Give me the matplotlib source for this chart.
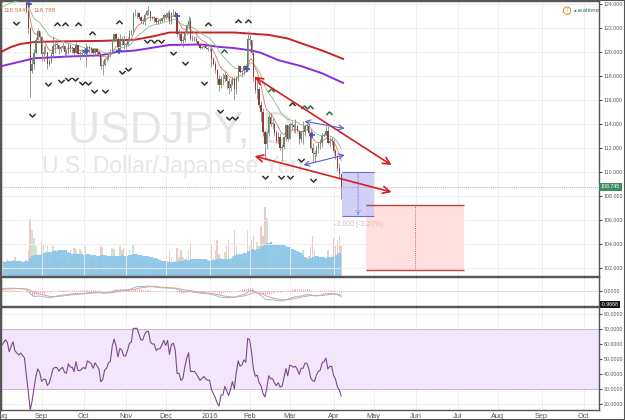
import numpy as np
import pandas as pd
import matplotlib
matplotlib.use("Agg")
import matplotlib.pyplot as plt
import matplotlib.transforms as mtransforms
from matplotlib.patches import Rectangle

plt.rcParams['font.family'] = ['Liberation Sans', 'DejaVu Sans']

# USDJPY daily bars, one per weekday from 2015-08-03 to 2016-04-07
closes = [
    124.5, 124.7, 124.9, 124.8, 124.4, 124.7, 125.0, 124.6, 124.5, 124.4, 124.5, 124.4, 124.3, 123.4, 122.0, 118.4, 119.0, 119.9, 121.0, 121.7, 121.2,
    119.8, 120.0, 120.0, 119.0, 119.2, 119.8, 120.5, 120.6, 120.6, 120.2, 120.4, 120.5, 120.0, 119.9, 120.6, 120.3, 120.3, 119.9, 120.6, 119.8, 119.8, 119.9,
    120.0, 119.9, 120.4, 120.3, 120.2, 119.9, 120.2, 120.0, 119.8, 118.8, 118.9, 119.4, 119.5, 119.8, 119.9, 120.9, 121.5, 121.1, 120.4, 121.1, 121.0, 120.6,
    120.6, 121.0, 121.6, 121.7, 123.2, 123.2, 123.2, 122.9, 122.6, 122.6, 123.1, 123.4, 123.4, 122.9, 122.8, 122.8, 122.5, 122.6, 122.6, 122.8, 123.1,
    122.9, 123.2, 122.6, 123.2, 123.3, 123.0, 121.5, 121.5, 120.9, 121.0, 121.6, 122.2, 122.6, 121.1, 121.1, 121.1, 120.9, 120.6, 120.3, 120.4, 120.5, 120.3, 120.2,
    120.2, 119.4, 119.0, 118.5, 117.7, 117.2, 117.7, 117.7, 118.1, 117.6, 117.0, 117.3, 117.7, 116.9, 117.9, 118.8, 118.3, 118.4, 118.8, 118.6, 121.1,
    121.0, 119.9, 117.9, 116.8, 116.9, 115.6, 115.0, 113.3, 112.3, 113.2, 114.6, 114.0, 114.0, 113.2, 112.6, 112.9, 112.0, 112.1, 112.9, 113.9, 112.7,
    114.0, 113.9, 113.7, 113.8, 113.4, 112.7, 113.3, 113.3, 113.8, 113.8, 113.2, 112.0, 111.6, 111.5, 112.0, 112.3, 112.4, 113.0, 113.1, 113.4, 112.4, 112.6, 112.6,
    111.7, 111.3, 110.3, 109.8, 108.745,
]
highs = [
    124.7, 124.9, 125.1, 125.0, 124.9, 124.8, 125.3, 125.1, 124.7, 124.6, 124.6, 124.6, 124.5, 124.4, 123.6, 122.1, 119.5, 120.2, 121.2, 121.9, 121.6,
    121.3, 120.5, 120.6, 120.0, 119.4, 120.0, 121.3, 120.8, 120.8, 120.6, 120.5, 120.7, 120.6, 120.2, 120.7, 120.6, 120.5, 120.3, 120.8, 120.6, 120.1, 120.2,
    120.2, 120.7, 120.5, 120.5, 120.4, 120.2, 120.3, 120.3, 120.1, 119.9, 119.3, 119.5, 119.7, 119.9, 120.2, 121.0, 121.5, 121.6, 121.2, 121.5, 121.3, 121.4,
    120.8, 121.2, 121.8, 121.8, 123.3, 123.6, 123.3, 123.2, 123.0, 122.8, 123.2, 123.5, 123.8, 123.5, 123.0, 123.0, 122.9, 122.7, 122.7, 122.9, 123.2,
    123.2, 123.4, 123.5, 123.3, 123.6, 123.4, 123.0, 121.9, 121.6, 121.3, 121.8, 122.3, 123.0, 122.9, 121.4, 121.3, 121.3, 120.9, 120.5, 120.5, 120.6, 120.6, 120.4,
    120.3, 120.6, 119.6, 119.2, 118.6, 118.1, 118.0, 118.2, 118.4, 118.0, 117.8, 117.7, 117.9, 118.0, 118.0, 118.9, 118.8, 118.5, 118.9, 119.0, 121.7,
    121.4, 121.0, 120.0, 118.0, 117.5, 117.1, 115.9, 115.3, 113.5, 113.4, 114.8, 114.9, 114.5, 114.1, 113.5, 113.3, 113.2, 112.3, 113.0, 114.0, 113.9,
    114.1, 114.2, 114.1, 114.4, 113.9, 113.5, 113.4, 114.2, 113.9, 114.1, 114.0, 113.6, 112.4, 111.8, 112.2, 112.5, 112.7, 113.2, 113.2, 113.8, 113.8, 112.9, 112.9,
    112.7, 111.9, 111.4, 110.7, 109.9,
]
lows = [
    124.3, 124.4, 124.6, 124.5, 124.3, 124.35, 124.5, 124.3, 124.3, 124.3, 124.3, 124.25, 124.25, 123.2, 121.6, 116.2, 118.2, 118.6, 119.8, 120.7, 120.8,
    119.2, 119.2, 119.8, 118.6, 118.8, 119.1, 119.5, 119.9, 120.3, 119.8, 120.0, 120.2, 119.7, 119.6, 119.8, 120.0, 119.9, 119.6, 119.9, 119.6, 119.3, 119.6,
    119.7, 118.7, 119.8, 119.9, 119.9, 119.6, 119.7, 119.8, 119.6, 118.6, 118.1, 118.8, 119.2, 119.3, 119.6, 119.8, 120.8, 120.9, 120.1, 120.1, 120.6, 120.2,
    120.2, 120.5, 120.9, 121.4, 121.5, 123.0, 122.8, 122.7, 122.4, 122.3, 122.2, 123.0, 123.1, 122.6, 122.7, 122.5, 122.3, 122.3, 122.4, 122.5, 122.6,
    122.7, 122.7, 122.3, 122.3, 123.0, 122.9, 121.3, 121.1, 120.6, 120.4, 120.8, 121.4, 121.9, 121.0, 120.9, 120.9, 120.8, 120.5, 120.2, 120.2, 120.3, 120.2, 120.1,
    120.1, 118.7, 118.9, 118.2, 117.3, 116.7, 117.0, 117.2, 117.5, 116.9, 116.5, 116.7, 117.2, 116.0, 116.5, 117.6, 118.2, 117.9, 118.1, 118.3, 118.5,
    120.6, 119.7, 117.6, 116.6, 116.1, 115.3, 114.2, 113.0, 111.0, 111.9, 113.0, 113.8, 113.6, 113.0, 112.4, 112.3, 111.8, 110.9, 111.9, 112.6, 112.6,
    112.7, 113.6, 113.3, 113.2, 113.2, 112.3, 112.5, 112.3, 113.0, 113.5, 113.0, 111.9, 110.7, 110.8, 111.3, 111.6, 111.9, 112.1, 112.9, 113.0, 112.3, 112.1, 112.2,
    111.6, 111.1, 110.1, 109.4, 107.7,
]
volumes = [
    14, 15, 14, 17, 15, 13, 16, 19, 15, 12, 11, 13, 15, 17, 26, 57, 46, 38, 30, 19, 17,
    34, 32, 25, 30, 10, 19, 30, 26, 15, 17, 15, 17, 26, 19, 17, 26, 19, 28, 27, 19, 27, 25,
    17, 30, 15, 17, 19, 17, 15, 10, 17, 30, 28, 19, 15, 17, 19, 28, 27, 15, 19, 30, 26, 28,
    15, 17, 26, 19, 32, 19, 15, 13, 15, 13, 15, 13, 15, 17, 13, 11, 13, 11, 6, 8, 11,
    13, 15, 26, 19, 13, 15, 28, 19, 26, 19, 17, 19, 26, 33, 13, 11, 11, 8, 5, 8, 10, 11, 8,
    5, 32, 18, 26, 36, 22, 18, 16, 24, 30, 36, 16, 20, 46, 30, 20, 14, 16, 22, 16, 46,
    30, 36, 40, 26, 34, 30, 50, 40, 69, 58, 24, 30, 18, 16, 14, 12, 16, 24, 18, 14, 18,
    22, 14, 18, 24, 12, 20, 14, 26, 18, 12, 20, 30, 40, 26, 12, 14, 12, 14, 8, 14, 26, 18, 22,
    38, 30, 36, 40, 30,
]
# July 2015 closes, only used to warm up the indicators
warmup_closes = [123.2, 123.1, 122.8, 122.5, 122.5, 120.7, 121.1, 122.7, 123.3, 123.3, 123.9, 124.1,
                 124.0, 124.3, 123.9, 124.1, 123.8, 123.8, 123.2, 123.6, 123.9, 124.1, 124.3]

# long moving averages (bar index, price)
ma_red_idx = [0, 5, 10, 17, 26, 52, 70, 80, 88, 105, 122, 131, 140, 150, 157, 168, 179]
ma_red_val = [120.0, 120.4, 120.65, 120.8, 120.85, 120.9, 121.0, 121.3, 121.6, 121.6, 121.6, 121.5, 121.4, 121.1, 120.7, 120.1, 119.4]
ma_purple_idx = [0, 17, 35, 52, 61, 70, 88, 105, 114, 122, 131, 136, 145, 157, 168, 179]
ma_purple_val = [118.8, 119.45, 119.6, 119.7, 120.0, 120.1, 120.56, 120.6, 120.4, 120.3, 120.1, 119.9, 119.3, 118.8, 118.2, 117.4]

# fractal markers
up_idx = [28.8, 33.5, 39.8, 47.2, 61.3, 108, 116.4, 123.7, 128.9, 141, 152, 158.3, 161.4, 171.4]
up_val = [122.3, 122.3, 122.3, 121.55, 122.5, 122.3, 120.1, 122.6, 122.6, 116.8, 115.65, 115.4, 115.4, 114.9]
up_green = [False, False, False, False, False, False, True, False, False, True, False, True, True, True]
dn_idx = [7.3, 15.7, 24.1, 31.4, 34.6, 38.3, 41.9, 45.1, 48.7, 54, 62.9, 66, 76, 79.7, 83.3, 90.1, 95.9,
          105.9, 114.3, 119, 122.1, 137.8, 146.2, 150.9, 156.7, 163]
dn_val = [122.4, 114.7, 117.3, 117.55, 117.7, 117.7, 117.4, 117.4, 116.7, 116.7, 118.3, 118.6, 120.9, 120.9, 120.9, 119.9, 119.05,
          117.4, 115.1, 114.5, 114.5, 109.6, 109.6, 109.6, 111.0, 109.3]
cross_idx = [14.2, 44.5, 61.3, 92.2, 128.4, 162.5]
cross_val = [124.0, 120.1, 120.1, 123.0, 118.55, 113.1]

# drawing tools
red_arrows = [((132.6, 117.9), (204.4, 110.55)), ((132.6, 111.3), (204.4, 108.3))]
blue_arrows = [((158.8, 114.2), (179.8, 113.6)), ((158.3, 110.55), (179.8, 111.4))]
blue_box = (178.6, 195.1, 106.35, 109.95)
red_box = (190.9, 242.5, 101.8, 107.22)

days = pd.bdate_range('2015-08-03', '2016-10-31')
n = len(closes)
x = np.arange(n)
c = np.array(closes)
o = np.array([warmup_closes[-1]] + closes[:-1])
h = np.maximum(np.array(highs), np.maximum(o, c))
l = np.minimum(np.array(lows), np.minimum(o, c))
up = c >= o

full = pd.Series(warmup_closes + closes)
k = len(warmup_closes)
ema_fast = full.ewm(span=9, adjust=False).mean().values[k:]
ema_slow = full.ewm(span=21, adjust=False).mean().values[k:]
macd_s = full.ewm(span=12, adjust=False).mean() - full.ewm(span=26, adjust=False).mean()
sig_s = macd_s.ewm(span=9, adjust=False).mean()
macd = macd_s.values[k:]
sig = sig_s.values[k:]
hist = macd - sig
delta = full.diff()
gain = delta.clip(lower=0).ewm(alpha=1 / 14, adjust=False).mean()
loss = (-delta.clip(upper=0)).ewm(alpha=1 / 14, adjust=False).mean()
rsi = (100 - 100 / (1 + gain / loss)).values[k:]
vol = np.array(volumes)
vol_ma = pd.Series(vol).rolling(20, min_periods=1).mean().values

# month ticks
pos = pd.Series(np.arange(len(days)), index=days)
firsts = pos.groupby([days.year, days.month]).first()
tick_pos = list(firsts.values)
tick_lab = []
for (yy, mm) in firsts.index:
    tick_lab.append(str(yy) if mm == 1 else pd.Timestamp(yy, mm, 1).strftime('%b'))

W, H = 625, 420
fig = plt.figure(figsize=(6.25, 4.2), dpi=100)
L, R = 1 / W, 598 / W
ax = fig.add_axes([L, 1 - 276 / H, R, 275 / H])
axm = fig.add_axes([L, 1 - 306 / H, R, 29 / H])
axr = fig.add_axes([L, 1 - 410 / H, R, 103 / H])
xl = (-0.3, 313.1)

# volume lives on a twin of the price pane, underneath it
axv = ax.twinx()
axv.set_xlim(*xl)
axv.set_ylim(0, vol.max() * 4.0)
axv.set_yticks([])
axv.bar(x[up], vol[up], width=0.8, color='#cfe2cf', lw=0)
axv.bar(x[~up], vol[~up], width=0.8, color='#ebcaca', lw=0)
axv.fill_between(x, 0, vol_ma, step='mid', color='#8bc6e8', alpha=0.92, lw=0)
for s in axv.spines.values():
    s.set_visible(False)
ax.set_zorder(axv.get_zorder() + 1)
ax.patch.set_visible(False)

txt = '#555555'
grid_c = '#ececec'
for a in (ax, axm, axr):
    a.set_xlim(*xl)
    a.set_xticks(tick_pos)
    a.yaxis.tick_right()
    a.tick_params(axis='y', labelsize=3.8, colors=txt, length=2, pad=1.5)
    a.tick_params(axis='x', labelsize=5.3, colors=txt, length=0, pad=2)
    a.grid(True, color=grid_c, lw=0.6)
    a.set_axisbelow(True)
    for s in a.spines.values():
        s.set_color('#555555')
        s.set_linewidth(1.0)
ax.set_xticklabels([])
axm.set_xticklabels([])
axr.set_xticklabels(tick_lab)

# price pane
ax.set_ylim(101.31, 124.225)
ax.set_yticks(np.arange(102, 125, 2))
ax.set_yticklabels(['%.3f' % v for v in np.arange(102, 125, 2)])

ax.text(0.112, 0.487, 'USDJPY, D', transform=ax.transAxes, fontsize=32, color='#e6e6e6',
        ha='left', va='baseline', zorder=0)
ax.text(0.0686, 0.3745, 'U.S. Dollar/Japanese Yen', transform=ax.transAxes, fontsize=16.5,
        color='#e6e6e6', ha='left', va='baseline', zorder=0)

ax.plot(ma_red_idx, ma_red_val, color='#c8222a', lw=1.4, zorder=3)
ax.plot(ma_purple_idx, ma_purple_val, color='#8a2be2', lw=1.4, zorder=3)
ax.plot(x, ema_slow, color='#8fb58f', lw=0.6, zorder=3)
ax.plot(x, ema_fast, color='#d47a6a', lw=0.6, zorder=3)

ax.vlines(x, l, h, color='#8a8a8a', lw=0.6, zorder=4)
body_lo = np.minimum(o, c)
body_h = np.maximum(np.abs(c - o), 0.06)
ax.bar(x[up], body_h[up], bottom=body_lo[up], width=0.7, color='#5f8a5f', lw=0, zorder=5)
ax.bar(x[~up], body_h[~up], bottom=body_lo[~up], width=0.7, color='#8e3c3c', lw=0, zorder=5)

chev_up = [(-1, -0.5), (0, 0.5), (1, -0.5)]
chev_dn = [(-1, 0.5), (0, -0.5), (1, 0.5)]
ug = np.array(up_green)
ax.plot(np.array(up_idx)[~ug], np.array(up_val)[~ug], ls='none', marker=chev_up, ms=4.5,
        mfc='none', mec='#333333', mew=1.1, zorder=6)
ax.plot(np.array(up_idx)[ug], np.array(up_val)[ug], ls='none', marker=chev_up, ms=4.5,
        mfc='none', mec='#2e6b3a', mew=1.1, zorder=6)
ax.plot(dn_idx, dn_val, ls='none', marker=chev_dn, ms=4.5, mfc='none', mec='#333333', mew=1.1, zorder=6)
ax.plot(cross_idx, cross_val, ls='none', marker='+', ms=5, mec='#3b55c8', mew=1.2, zorder=6)

for (p0, p1) in red_arrows:
    ax.annotate('', xy=p1, xytext=p0, zorder=7,
                arrowprops=dict(arrowstyle='<->,head_length=0.5,head_width=0.25', color='#d42020', lw=1.2,
                                shrinkA=0, shrinkB=0))
for (p0, p1) in blue_arrows:
    ax.annotate('', xy=p1, xytext=p0, zorder=7,
                arrowprops=dict(arrowstyle='<->,head_length=0.35,head_width=0.18', color='#5b5bd0', lw=0.8,
                                shrinkA=0, shrinkB=0))

rx0, rx1, ry0, ry1 = red_box
ax.add_patch(Rectangle((rx0, ry0), rx1 - rx0, ry1 - ry0, fc='#ffdcdc', ec='none', alpha=0.9, zorder=2))
ax.hlines([ry0, ry1], rx0, rx1, color='#b5473f', lw=1.0, zorder=3)
ax.vlines((rx0 + rx1) / 2, ry0, ry1, color='#b5473f', lw=0.6, ls=(0, (1, 1.5)), zorder=3)

bx0, bx1, by0, by1 = blue_box
ax.add_patch(Rectangle((bx0, by0), bx1 - bx0, by1 - by0, fc='#c9c8f5', ec='none', alpha=0.85, zorder=2))
ax.hlines([by0, by1], bx0, bx1, color='#6b6bd6', lw=0.8, zorder=3)
ax.annotate('', xy=((bx0 + bx1) / 2, by0), xytext=((bx0 + bx1) / 2, by1), zorder=3,
            arrowprops=dict(arrowstyle='->,head_length=0.3,head_width=0.15', color='#6b6bd6', lw=0.6,
                            ls=':', shrinkA=0, shrinkB=0))
ax.text((bx0 + bx1) / 2, by0 - 0.75, '%.3f (%.2f%%)' % (by0 - by1, (by0 - by1) / by1 * 100),
        ha='center', va='center', fontsize=5, color='#d8b8b8', zorder=3)

ax.axhline(closes[-1], color='#9a9a9a', lw=0.6, ls=(0, (1, 1.5)), zorder=2)
btr = mtransforms.blended_transform_factory(ax.transAxes, ax.transData)
ax.text(1.003, closes[-1], '%.3f' % closes[-1], transform=btr, ha='left', va='center', fontsize=3.8,
        color='white', clip_on=False, zorder=10,
        bbox=dict(boxstyle='square,pad=0.3', fc='#3f8c5f', ec='none'))

# MACD pane
mn = min(macd.min(), sig.min())
axm.set_ylim(mn * 1.5, -mn * 1.35)
axm.set_yticks([0])
axm.set_yticklabels(['0.0000'])
axm.vlines(x, 0, hist, color='#e899b2', lw=0.6)
axm.axhline(0, color='#e8b0c0', lw=0.6, ls=(0, (1, 1.5)))
axm.plot(x, macd, color='#8fc0d8', lw=0.7)
axm.plot(x, sig, color='#e8a088', lw=0.7)
axm.text(1.003, 0.05, '%.4f' % macd[-1], transform=axm.transAxes, ha='left', va='center', fontsize=3.8,
         color='white', clip_on=False, bbox=dict(boxstyle='square,pad=0.2', fc='#111111', ec='none'))

# RSI pane
axr.set_ylim(16, 84.67)
axr.set_yticks(np.arange(20, 81, 10))
axr.set_yticklabels(['%.4f' % v for v in np.arange(20, 81, 10)])
axr.axhspan(30, 70, color='#f3e6fc', lw=0, zorder=0)
axr.axhline(70, color='#c2b0d2', lw=0.6)
axr.axhline(30, color='#c2b0d2', lw=0.6)
axr.plot(x, rsi, color='#7a4a8a', lw=0.8)

# header texts
fig.text(3 / W, 1 - 10 / H, '%.3f' % 118.544, fontsize=4.5, color='#c8784a', ha='left', va='center')
fig.text(33 / W, 1 - 10 / H, '%.3f' % 118.788, fontsize=4.5, color='#c8784a', ha='left', va='center')
fig.text(567 / W, 1 - 10.7 / H, '!', fontsize=3.5, color='#e08a2a', ha='center', va='center',
         bbox=dict(boxstyle='circle,pad=0.25', fc='white', ec='#e08a2a', lw=0.7))
fig.text(575 / W, 1 - 10.7 / H, u'\u25cf', fontsize=3.5, color='#2f7d5a', ha='center', va='center')
fig.text(578 / W, 1 - 10.7 / H, 'realtime', fontsize=4.5, color='#3c7a6a', ha='left', va='center')

fig.add_artist(Rectangle((0, 0), 1, 1, transform=fig.transFigure, fill=False, ec='#555555', lw=1.5))

fig.savefig('out.png', dpi=100)
